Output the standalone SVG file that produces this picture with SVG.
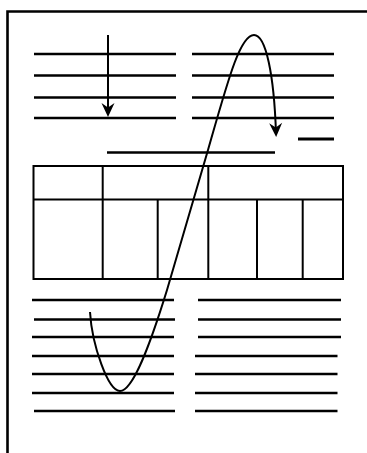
<svg xmlns="http://www.w3.org/2000/svg" width="367" height="453" viewBox="0 0 367 453">
<style>
.ln{stroke:#000;stroke-width:2.6;fill:none}
.tb{stroke:#000;stroke-width:2;fill:none}
.cv{stroke:#000;stroke-width:2;fill:none}
</style>
<defs>
<marker id="ah" markerUnits="userSpaceOnUse" viewBox="-15 -7 16 14" markerWidth="16" markerHeight="14" refX="-4" refY="0" orient="auto">
<path d="M0,0 L-14,-6.5 L-9.5,0 L-14,6.5 Z" fill="#000"/>
</marker>
</defs>
<rect width="367" height="453" fill="#fff"/>
<g id="frame">
<path class="ln" d="M7.5,453 V11.5 H367" stroke-width="2.4"/>
</g>
<g id="top-left-lines" class="ln">
<line x1="34" y1="54" x2="176" y2="54"/>
<line x1="34" y1="75.5" x2="176" y2="75.5"/>
<line x1="34" y1="97.5" x2="176" y2="97.5"/>
<line x1="34" y1="118" x2="176" y2="118"/>
</g>
<g id="top-right-lines" class="ln">
<line x1="192" y1="54" x2="334" y2="54"/>
<line x1="192" y1="75.5" x2="334" y2="75.5"/>
<line x1="192" y1="97.5" x2="334" y2="97.5"/>
<line x1="192" y1="118" x2="334" y2="118"/>
<line x1="298" y1="139" x2="334" y2="139" stroke-width="3"/>
</g>
<g id="heading-line">
<line class="ln" x1="107" y1="152.5" x2="275" y2="152.5" stroke-width="3"/>
</g>
<g id="table" class="tb">
<rect x="33.5" y="166" width="309.5" height="113"/>
<line x1="33.5" y1="199.5" x2="343" y2="199.5"/>
<line x1="102.7" y1="166" x2="102.7" y2="279"/>
<line x1="208.3" y1="166" x2="208.3" y2="279"/>
<line x1="157.7" y1="199.5" x2="157.7" y2="279"/>
<line x1="257" y1="199.5" x2="257" y2="279"/>
<line x1="302.7" y1="199.5" x2="302.7" y2="279"/>
</g>
<g id="bottom-left-lines" class="ln">
<line x1="32" y1="300" x2="174" y2="300"/>
<line x1="34" y1="319.5" x2="175" y2="319.5"/>
<line x1="32" y1="337" x2="174" y2="337"/>
<line x1="32" y1="356" x2="174" y2="356"/>
<line x1="32" y1="374" x2="174" y2="374"/>
<line x1="32" y1="393" x2="174" y2="393"/>
<line x1="34" y1="411" x2="175" y2="411"/>
</g>
<g id="bottom-right-lines" class="ln">
<line x1="198" y1="300" x2="341" y2="300"/>
<line x1="198" y1="319.5" x2="341" y2="319.5"/>
<line x1="198" y1="337" x2="341" y2="337"/>
<line x1="195" y1="356" x2="337.5" y2="356"/>
<line x1="195" y1="374" x2="337.5" y2="374"/>
<line x1="195" y1="393" x2="337.5" y2="393"/>
<line x1="195" y1="411" x2="337.5" y2="411"/>
</g>
<g id="connectors">
<line class="cv" x1="108" y1="35" x2="108" y2="113" marker-end="url(#ah)"/>
<path class="cv" d="M90,312 C92,345 108,391 120,391 C133,391 150,345 167,290 L208,150 C228,80 240,35 254,35 C266,35 274,75 276,133" marker-end="url(#ah)"/>
</g>
</svg>
